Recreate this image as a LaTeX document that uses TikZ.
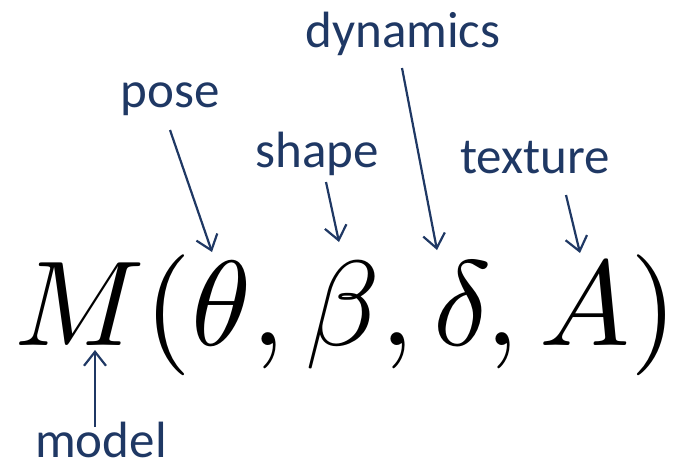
\documentclass[tikz,border=0pt]{standalone}
\usepackage{graphicx}
\usepackage{fontspec}
\setmainfont{Carlito}
\usetikzlibrary{arrows.meta}
\definecolor{navy}{RGB}{31,56,100}
\tikzset{
  lbl/.style={text=navy, font=\fontsize{51}{51}\selectfont, inner sep=0pt, anchor=base},
  pointer/.style={draw=navy, line width=2.2pt, -{Straight Barb[length=14pt,width=22pt,line width=2.2pt]}}
}
\begin{document}
\begin{tikzpicture}[x=1pt,y=-1pt]
\useasboundingbox (0,0) rectangle (677,469);
\node[inner sep=0pt, anchor=base west] (formula) at (14,345)
  {\scalebox{12.1}{$M(\theta,\beta,\delta,A)$}};
\node[lbl] (pose) at (170,107) {pose};
\node[lbl] (dyn) at (403,47) {dynamics};
\node[lbl] (shape) at (317,167) {shape};
\node[lbl] (tex) at (535,173) {texture};
\node[lbl] (model) at (101,457) {model};
\coordinate (poseS) at (170,130);
\coordinate (poseE) at (212,252);
\coordinate (dynS) at (402,68);
\coordinate (dynE) at (437,250);
\coordinate (shapeS) at (326,182);
\coordinate (shapeE) at (339,242);
\coordinate (texS) at (566,195);
\coordinate (texE) at (580,253);
\coordinate (modelS) at (95,427);
\coordinate (modelE) at (95,350);
\draw[pointer] (poseS) -- (poseE);
\draw[pointer] (dynS) -- (dynE);
\draw[pointer] (shapeS) -- (shapeE);
\draw[pointer] (texS) -- (texE);
\draw[pointer] (modelS) -- (modelE);
\end{tikzpicture}
\end{document}
